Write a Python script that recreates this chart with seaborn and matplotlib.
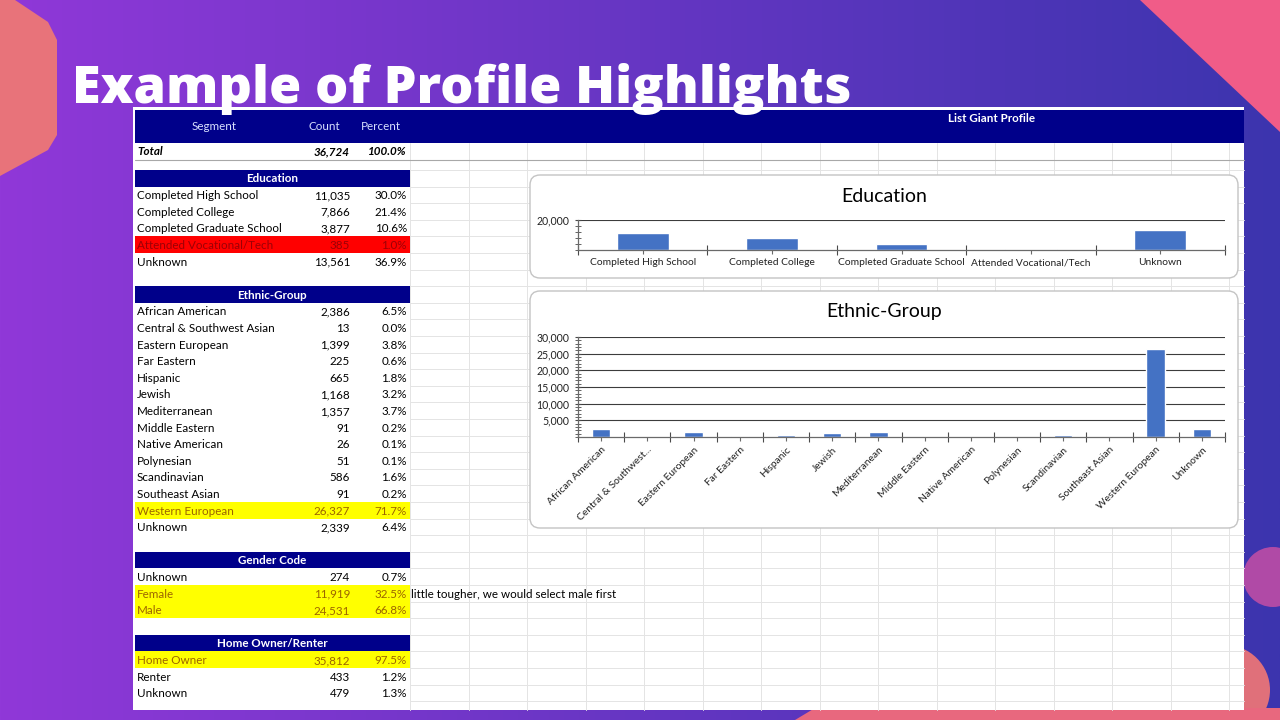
import numpy as np
import matplotlib
matplotlib.use('Agg')
import matplotlib.pyplot as plt
import seaborn as sns
from matplotlib.patches import Rectangle, Polygon, Circle, FancyBboxPatch
from matplotlib.ticker import MultipleLocator, FixedLocator, FuncFormatter

# ---------------- data ----------------
slide_title = "Example of Profile Highlights"
table_title = "List Giant Profile"
header_cols = ["Segment", "Count", "Percent"]
total_label = "Total"
total_count = 36724
total_pct = 100.0

edu_labels = ["Completed High School", "Completed College", "Completed Graduate School",
              "Attended Vocational/Tech", "Unknown"]
edu_counts = [11035, 7866, 3877, 385, 13561]
edu_pcts = [30.0, 21.4, 10.6, 1.0, 36.9]

eth_labels = ["African American", "Central & Southwest Asian", "Eastern European", "Far Eastern",
              "Hispanic", "Jewish", "Mediterranean", "Middle Eastern", "Native American",
              "Polynesian", "Scandinavian", "Southeast Asian", "Western European", "Unknown"]
eth_counts = [2386, 13, 1399, 225, 665, 1168, 1357, 91, 26, 51, 586, 91, 26327, 2339]
eth_pcts = [6.5, 0.0, 3.8, 0.6, 1.8, 3.2, 3.7, 0.2, 0.1, 0.1, 1.6, 0.2, 71.7, 6.4]

gender_labels = ["Unknown", "Female", "Male"]
gender_counts = [274, 11919, 24531]
gender_pcts = [0.7, 32.5, 66.8]

home_labels = ["Home Owner", "Renter", "Unknown"]
home_counts = [35812, 433, 479]
home_pcts = [97.5, 1.2, 1.3]

note_text = "little tougher, we would select male first"

edu_yticks = [20000]
eth_yticks = [5000, 10000, 15000, 20000, 25000, 30000]

# ---------------- style ----------------
sns.set_theme(style='white')
plt.rcParams['font.family'] = ['Lato', 'DejaVu Sans']

NAVY = '#00008A'
BAR = '#4472C4'
RED_FILL, RED_TXT = '#FF0000', '#9C0006'
YEL_FILL, YEL_TXT = '#FFFF00', '#9C6500'
FS = 8.4
X_LAB, X_CNT, X_PCT = 137, 350, 407

fig = plt.figure(figsize=(12.8, 7.2), dpi=100)
bg = fig.add_axes([0, 0, 1, 1])
bg.axis('off')

# gradient background
g = np.linspace(0, 1, 512)
left = np.array([144, 56, 216]) / 255
right = np.array([60, 52, 174]) / 255
img = (left[None, :] * (1 - g[:, None]) + right[None, :] * g[:, None])[None, :, :]
bg.imshow(img, extent=[0, 1280, 720, 0], aspect='auto', zorder=0)
bg.set_xlim(0, 1280)
bg.set_ylim(720, 0)

# decorative shapes
bg.add_patch(Polygon([(0, -10), (48, 22), (57, 40), (57, 135), (48, 150), (0, 176)],
                     closed=True, fc='#E8737A', ec='none', zorder=1))
bg.add_patch(Polygon([(1140, 0), (1280, 0), (1280, 132)], closed=True, fc='#F05C88',
                     ec='none', zorder=1))
bg.add_patch(Circle((1273, 577), 30, fc='#B04AA6', ec='none', zorder=1))
bg.add_patch(Circle((1225, 690), 45, fc='#E0707A', ec='none', zorder=1))
bg.add_patch(Polygon([(795, 720), (815, 708), (1280, 708), (1280, 720)], closed=True,
                     fc='#E8687E', ec='none', zorder=1))

# spreadsheet sheet
bg.add_patch(Rectangle((133, 107), 1111, 603, fc='white', ec='none', zorder=2))
GRID = '#E4E4E4'
for k in range(15):
    x = 410 + 58.5 * k
    bg.plot([x, x], [143, 710], color=GRID, lw=0.7, zorder=2.5)
ROW0, RH = 170.0, 16.6
for k in range(33):
    y = ROW0 + RH * k
    bg.plot([410, 1244], [y, y], color=GRID, lw=0.7, zorder=2.5)
bg.plot([135, 1244], [160, 160], color='#A8A8A8', lw=0.8, zorder=2.6)

# header band
bg.add_patch(Rectangle((135, 110), 1109, 33, fc=NAVY, ec='none', zorder=3))
hx = [214, 324, 381]
for x, t in zip(hx, header_cols):
    bg.text(x, 127, t, ha='center', va='center', color='#D8E0FF', fontsize=FS, zorder=4)
bg.text(992, 118, table_title, ha='center', va='center', color='white', fontsize=FS,
        fontweight='bold', zorder=4)

# total row
bg.text(X_LAB, 151.5, total_label, ha='left', va='center', fontsize=FS, fontweight='bold',
        fontstyle='italic', color='black', zorder=4)
bg.text(X_CNT, 151.5, f"{total_count:,}", ha='right', va='center', fontsize=FS,
        fontweight='bold', fontstyle='italic', color='black', zorder=4)
bg.text(X_PCT, 151.5, f"{total_pct:.1f}%", ha='right', va='center', fontsize=FS,
        fontweight='bold', fontstyle='italic', color='black', zorder=4)

sections = [
    ("Education", edu_labels, edu_counts, edu_pcts, 0, {3: 'red'}),
    ("Ethnic-Group", eth_labels, eth_counts, eth_pcts, 7, {12: 'yellow'}),
    ("Gender Code", gender_labels, gender_counts, gender_pcts, 23, {1: 'yellow', 2: 'yellow'}),
    ("Home Owner/Renter", home_labels, home_counts, home_pcts, 28, {0: 'yellow'}),
]
for name, labels, counts, pcts, start, hl in sections:
    top = ROW0 + RH * start
    bg.add_patch(Rectangle((135, top), 275, RH, fc=NAVY, ec='none', zorder=3))
    bg.text(272, top + RH / 2 + 0.5, name, ha='center', va='center', color='white',
            fontsize=FS, fontweight='bold', zorder=4)
    for i, (lab, c, p) in enumerate(zip(labels, counts, pcts)):
        rt = ROW0 + RH * (start + 1 + i)
        col = 'black'
        if i in hl:
            fill = RED_FILL if hl[i] == 'red' else YEL_FILL
            col = RED_TXT if hl[i] == 'red' else YEL_TXT
            bg.add_patch(Rectangle((135, rt), 275, RH, fc=fill, ec='none', zorder=3))
        yc = rt + RH / 2 + 0.8
        bg.text(X_LAB, yc, lab, ha='left', va='center', fontsize=FS, color=col, zorder=4)
        bg.text(X_CNT, yc, f"{c:,}", ha='right', va='center', fontsize=FS, color=col, zorder=4)
        bg.text(X_PCT, yc, f"{p:.1f}%", ha='right', va='center', fontsize=FS, color=col, zorder=4)

bg.text(411, ROW0 + RH * 25 + RH / 2 + 0.8, note_text, ha='left', va='center', fontsize=FS,
        color='black', zorder=4)

# slide title
bg.text(72, 103, slide_title, ha='left', va='baseline', color='white', fontsize=37.6,
        fontweight=800, family=['Open Sans', 'DejaVu Sans'], zorder=10)


def px_rect(x0, y0, x1, y1):
    return [x0 / 1280, 1 - y1 / 720, (x1 - x0) / 1280, (y1 - y0) / 720]


def draw_chart(box, plot, title, title_y, labels, values, yticks, ymax, minor_step, rotate):
    bx0, by0, bx1, by1 = box
    bg.add_patch(FancyBboxPatch((bx0, by0), bx1 - bx0, by1 - by0,
                                boxstyle='round,pad=0,rounding_size=10',
                                fc='white', ec='#C4C4C4', lw=1.0, zorder=5))
    bg.text((bx0 + bx1) / 2, title_y, title, ha='center', va='center', fontsize=14,
            color='black', zorder=6)
    ax = fig.add_axes(px_rect(*plot))
    ax.set_facecolor('none')
    sns.barplot(x=labels, y=values, ax=ax, color=BAR, width=0.4, saturation=1)
    n = len(labels)
    ax.set_xlim(-0.5, n - 0.5)
    ax.set_ylim(0, ymax)
    ax.set_xlabel('')
    ax.set_ylabel('')
    ax.yaxis.set_major_locator(FixedLocator(yticks))
    ax.yaxis.set_major_formatter(FuncFormatter(lambda v, p: f"{v:,.0f}"))
    ax.yaxis.set_minor_locator(MultipleLocator(minor_step))
    ax.grid(False)
    ax.yaxis.grid(True, which='major', color='#3C3C3C', lw=0.8)
    ax.set_axisbelow(True)
    for s in ['top', 'right']:
        ax.spines[s].set_visible(False)
    for s in ['left', 'bottom']:
        ax.spines[s].set_color('#6A6A6A')
        ax.spines[s].set_linewidth(0.9)
    ax.set_xticks(range(n))
    if rotate:
        tl = [l if len(l) <= 20 else l[:19] + '...' for l in labels]
        ax.set_xticklabels(tl, rotation=45, ha='right', rotation_mode='anchor', fontsize=7.4)
    else:
        ax.set_xticklabels(labels, fontsize=7.4)
    ax.set_xticks(np.arange(-0.5, n, 1.0), minor=True)
    ax.tick_params(axis='x', which='major', length=3, width=0.8, direction='out',
                   color='#6A6A6A', pad=3, bottom=True)
    ax.tick_params(axis='x', which='minor', length=7, width=0.8, direction='inout',
                   color='#4A4A4A', bottom=True)
    ax.tick_params(axis='y', which='major', length=5, width=0.8, direction='inout',
                   color='#4A4A4A', labelsize=7.6, pad=4, left=True)
    ax.tick_params(axis='y', which='minor', length=4, width=0.6, direction='inout',
                   color='#4A4A4A', left=True)
    for t in ax.get_yticklabels() + ax.get_xticklabels():
        t.set_color('#222222')
    return ax


draw_chart((530, 175, 1238, 278), (578, 220, 1225, 250), "Education", 196,
           edu_labels, edu_counts, edu_yticks, 20000, 4000, False)
draw_chart((530, 291, 1238, 528), (578, 337, 1225, 437), "Ethnic-Group", 311,
           eth_labels, eth_counts, eth_yticks, 30000, 1000, True)

fig.savefig('out.png', dpi=100)
